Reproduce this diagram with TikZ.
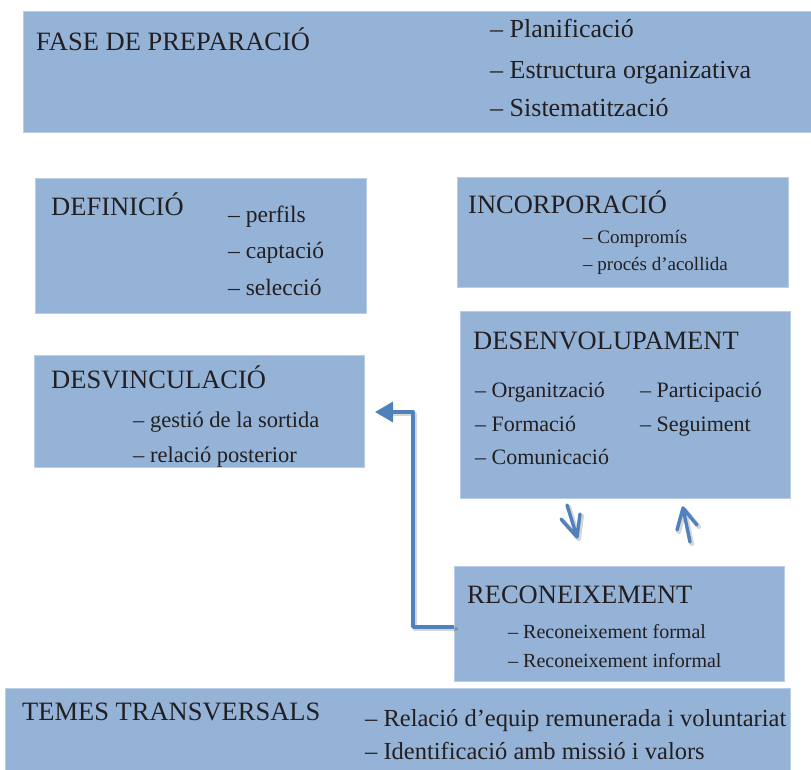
\documentclass[tikz,border=0pt]{standalone}
\usepackage{fontspec}
\setmainfont{Liberation Serif}
\usetikzlibrary{arrows.meta}
\definecolor{boxblue}{HTML}{95B3D7}
\definecolor{edgeblue}{HTML}{B9CDE5}
\definecolor{arrowblue}{HTML}{4F81BD}
\definecolor{ink}{HTML}{231F20}
\begin{document}
\begin{tikzpicture}[x=1pt,y=-1pt,
  panel/.style={draw=edgeblue, line width=0.8pt, fill=boxblue, inner sep=0pt, outer sep=0pt, anchor=north west},
  title/.style={anchor=base west, inner sep=0pt, text=ink, font=\fontsize{26.5}{27}\selectfont},
  item/.style={anchor=base west, inner sep=0pt, text=ink},
  conn/.style={draw=arrowblue, line width=3.4pt, line join=round},
  thin/.style={draw=arrowblue, line width=3.4pt, line cap=round, line join=round},
  shade/.style={draw=black, opacity=0.16, line width=4.5pt, line cap=round, line join=round, transform canvas={shift={(1.8pt,-1.8pt)}}},
  bigtip/.style={-{Triangle[length=18pt,width=20pt]}}]
\useasboundingbox (0,0) rectangle (811,769);
\fill[white] (0,0) rectangle (811,769);

% panels
\node[panel, minimum width=790pt, minimum height=121pt] (fase) at (23,11) {};
\node[panel, minimum width=331pt, minimum height=135pt] (def) at (35,178) {};
\node[panel, minimum width=330pt, minimum height=112pt] (desv) at (34,355) {};
\node[panel, minimum width=331pt, minimum height=110pt] (inc) at (457,177) {};
\node[panel, minimum width=330pt, minimum height=187pt] (dev) at (460,311) {};
\node[panel, minimum width=330pt, minimum height=115pt] (rec) at (454,566) {};
\node[panel, minimum width=785pt, minimum height=82pt] (tem) at (5,688) {};

% FASE DE PREPARACIÓ
\node[title] (faseT) at (36,50) {FASE DE PREPARACIÓ};
\begin{scope}[every node/.style={item, font=\fontsize{26}{26}\selectfont}]
\node (f1) at (490,37) {– Planificació};
\node (f2) at (490,78) {– Estructura organizativa};
\node (f3) at (490,116) {– Sistematització};
\end{scope}

% DEFINICIÓ
\node[title] (defT) at (51,215) {DEFINICIÓ};
\begin{scope}[every node/.style={item, font=\fontsize{23.5}{24}\selectfont}]
\node (d1) at (228,222) {– perfils};
\node (d2) at (228,258) {– captació};
\node (d3) at (228,295) {– selecció};
\end{scope}

% DESVINCULACIÓ
\node[title] (desvT) at (51,388) {DESVINCULACIÓ};
\begin{scope}[every node/.style={item, font=\fontsize{22.5}{23}\selectfont}]
\node (v1) at (133,427) {– gestió de la sortida};
\node (v2) at (133,462) {– relació posterior};
\end{scope}

% INCORPORACIÓ
\node[title] (incT) at (468,213) {INCORPORACIÓ};
\begin{scope}[every node/.style={item, font=\fontsize{19}{19}\selectfont}]
\node (i1) at (583,243) {– Compromís};
\node (i2) at (583,270) {– procés d’acollida};
\end{scope}

% DESENVOLUPAMENT
\node[title] (devT) at (473,349) {DESENVOLUPAMENT};
\begin{scope}[every node/.style={item, font=\fontsize{22}{22}\selectfont}]
\node (o1) at (475,397) {– Organització};
\node (o2) at (475,431) {– Formació};
\node (o3) at (475,464) {– Comunicació};
\node (p1) at (640,397) {– Participació};
\node (p2) at (640,431) {– Seguiment};
\end{scope}

% RECONEIXEMENT
\node[title] (recT) at (467,603) {RECONEIXEMENT};
\begin{scope}[every node/.style={item, font=\fontsize{20}{20}\selectfont}]
\node (r1) at (508,638) {– Reconeixement formal};
\node (r2) at (508,667) {– Reconeixement informal};
\end{scope}

% TEMES TRANSVERSALS
\node[title] (temT) at (22,720) {TEMES TRANSVERSALS};
\begin{scope}[every node/.style={item, font=\fontsize{24.5}{25}\selectfont}]
\node (t1) at (365,726) {– Relació d’equip remunerada i voluntariat};
\node (t2) at (365,759) {– Identificació amb missió i valors};
\end{scope}

% connectors
\coordinate (elbowB) at (413,627);
\coordinate (elbowT) at (413,412);
% down arrow (DESENVOLUPAMENT -> RECONEIXEMENT)
\coordinate (downS) at (567,505);
\coordinate (downE) at (577,537);
\coordinate (downL) at (561,519);
\coordinate (downR) at (580,514);
% up arrow (RECONEIXEMENT -> DESENVOLUPAMENT)
\coordinate (upS) at (690,542);
\coordinate (upE) at (683,508);
\coordinate (upL) at (677,530);
\coordinate (upR) at (697,525);

\draw[shade] (rec.west |- elbowB) -- (elbowB) -- (elbowT) -- ([xshift=16pt]desv.east |- elbowT);
\draw[conn, bigtip, shorten >=11pt] (rec.west |- elbowB) -- (elbowB) -- (elbowT) -- (desv.east |- elbowT);

\draw[shade] (downS) -- (downE) (downL) -- (downE) -- (downR);
\draw[thin] (downS) -- (downE) (downL) -- (downE) -- (downR);
\draw[shade] (upS) -- (upE) (upL) -- (upE) -- (upR);
\draw[thin] (upS) -- (upE) (upL) -- (upE) -- (upR);
\end{tikzpicture}
\end{document}
